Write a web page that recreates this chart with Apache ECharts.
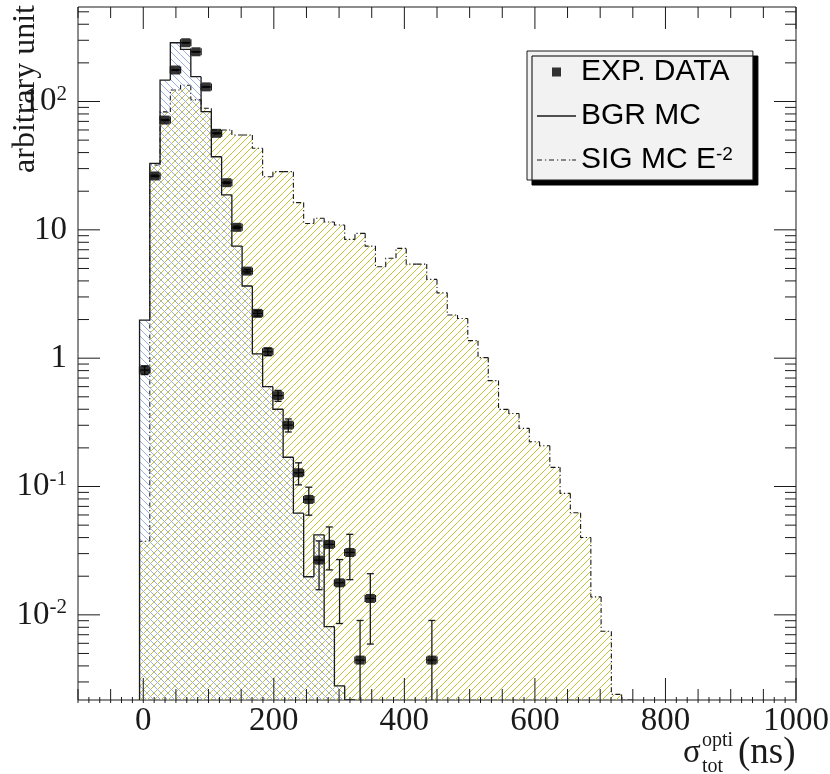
<!DOCTYPE html>
<html>
<head>
<meta charset="utf-8">
<script src="https://cdn.jsdelivr.net/npm/echarts@6/dist/echarts.min.js"></script>
<style>
  html, body { margin: 0; padding: 0; background: #ffffff; }
  #chart { width: 830px; height: 774px; }
</style>
</head>
<body>
<div id="chart"></div>
<script>
// Histogram binning: 70 equal bins over [-100, 1000] ns
const HIST_MIN = -100;
const HIST_MAX = 1000;
const N_BINS = 70;

// Background Monte Carlo, contents of each bin (arbitrary unit)
const bgrMC = [
  0, 0, 0, 0, 0, 0, 1.98, 33.0, 147, 287,
  255, 156, 83.3, 37.1, 18.7, 7.47, 3.65, 1.08, 0.60, 0.40,
  0.169, 0.062, 0.0198, 0.042, 0.0081, 0.0028, 0, 0, 0, 0,
  0, 0, 0, 0, 0, 0, 0, 0, 0, 0,
  0, 0, 0, 0, 0, 0, 0, 0, 0, 0,
  0, 0, 0, 0, 0, 0, 0, 0, 0, 0,
  0, 0, 0, 0, 0, 0, 0, 0, 0, 0
];

// Signal Monte Carlo (E^-2 spectrum), contents of each bin
const sigMC = [
  0, 0, 0, 0, 0, 0, 0.0375, 32, 83, 123,
  134, 103, 88.5, 60, 60, 54.8, 54.8, 43.2, 25.9, 28.4,
  28.4, 16.3, 11.2, 12.3, 11.5, 10.9, 8.43, 9.39, 7.47, 5.16,
  6.0, 7.17, 5.41, 5.41, 4.11, 3.23, 2.17, 2.04, 1.37, 1.01,
  0.669, 0.399, 0.371, 0.284, 0.223, 0.208, 0.141, 0.0884, 0.0624, 0.0401,
  0.0138, 0.00746, 0.0024, 0, 0, 0, 0, 0, 0, 0,
  0, 0, 0, 0, 0, 0, 0, 0, 0, 0
];

// Experimental data: bin index, content and statistical error
const expBins = [6, 7, 8, 9, 10, 11, 12, 13, 14, 15, 16, 17, 18, 19, 20, 21, 22, 23, 24, 25, 26, 27, 28, 34];
const expValues = [0.808, 26.3, 71.7, 176, 287, 244, 130, 56.5, 23.3, 10.46, 4.77, 2.235, 1.122, 0.511, 0.301, 0.128, 0.0793, 0.0267, 0.0354, 0.01776, 0.0306, 0.00444, 0.01342, 0.00444];
const expErrors = [0.063, 0.36, 0.59, 0.93, 1.19, 1.09, 0.80, 0.53, 0.34, 0.226, 0.153, 0.105, 0.074, 0.05, 0.035, 0.025, 0.0195, 0.011, 0.013, 0.0092, 0.0118, 0.0046, 0.0075, 0.0046];

// Axis ranges and labelled ticks
const X_MIN = -100, X_MAX = 1000;
const Y_MIN = 0.00217, Y_MAX = 545;
const xTickLabels = [0, 200, 400, 600, 800, 1000];
const yTickLabels = [0.01, 0.1, 1, 10, 100];

const BIN_W = (HIST_MAX - HIST_MIN) / N_BINS;
const binLow = i => HIST_MIN + i * BIN_W;

const SERIF = 'Liberation Serif';
const SANS = 'Liberation Sans';
const INK = '#1a1a1a';

// Diagonal hatch fill: dir > 0 draws '/', dir < 0 draws '\'
function hatch(color, dir, size) {
  const c = document.createElement('canvas');
  c.width = size; c.height = size;
  const g = c.getContext('2d');
  g.strokeStyle = color;
  g.lineWidth = 1;
  g.beginPath();
  if (dir > 0) {
    g.moveTo(-1, size + 1); g.lineTo(size + 1, -1);
    g.moveTo(-2, 2); g.lineTo(2, -2);
    g.moveTo(size - 2, size + 2); g.lineTo(size + 2, size - 2);
  } else {
    g.moveTo(-1, -1); g.lineTo(size + 1, size + 1);
    g.moveTo(size - 2, -2); g.lineTo(size + 2, 2);
    g.moveTo(-2, size - 2); g.lineTo(2, size + 2);
  }
  g.stroke();
  return { image: c, repeat: 'repeat' };
}
const sigFill = hatch('#c2c232', 1, 7);
const bgrFill = hatch('#9aaee4', -1, 7);

// One item per bin: [low edge, high edge, content, content of previous bin]
function histData(arr) {
  return arr.map((v, i) => [binLow(i), binLow(i + 1), v, i > 0 ? arr[i - 1] : 0]);
}

function histRender(fill, lineDash, lineWidth) {
  return function (params, api) {
    const lo = api.value(0), hi = api.value(1);
    const v = api.value(2), prev = api.value(3);
    if (!(v > 0) && !(prev > 0)) return null;
    const top = v > 0 ? v : Y_MIN;
    const prevTop = prev > 0 ? prev : Y_MIN;
    const pBase = api.coord([lo, Y_MIN]);
    const pTL = api.coord([lo, top]);
    const pTR = api.coord([hi, top]);
    const pPrev = api.coord([lo, prevTop]);
    const children = [];
    if (v > 0) {
      children.push({
        type: 'rect',
        shape: { x: pTL[0], y: pTL[1], width: pTR[0] - pTL[0], height: pBase[1] - pTL[1] },
        style: { fill: fill, stroke: null },
        silent: true
      });
    }
    children.push({
      type: 'polyline',
      shape: { points: [pPrev, pTL, pTR] },
      style: { fill: null, stroke: INK, lineWidth: lineWidth, lineDash: lineDash }
    });
    return { type: 'group', children: children };
  };
}

// Error bars with end caps (vertical: statistical, horizontal: half bin width)
function errorRender(params, api) {
  const x = api.value(0), v = api.value(1), e = api.value(2);
  const c = api.coord([x, v]);
  const pUp = api.coord([x, v + e]);
  const pBase = api.coord([x, Y_MIN]);
  const lowOk = v - e > Y_MIN;
  const pDn = lowOk ? api.coord([x, v - e]) : pBase;
  const pL = api.coord([x - BIN_W / 2, v]);
  const pR = api.coord([x + BIN_W / 2, v]);
  const st = { stroke: INK, lineWidth: 1.3, fill: null };
  const cap = 3.5;
  const kids = [
    { type: 'line', shape: { x1: c[0], y1: pUp[1], x2: c[0], y2: pDn[1] }, style: st },
    { type: 'line', shape: { x1: c[0] - cap, y1: pUp[1], x2: c[0] + cap, y2: pUp[1] }, style: st },
    { type: 'line', shape: { x1: pL[0], y1: c[1], x2: pR[0], y2: c[1] }, style: st },
    { type: 'line', shape: { x1: pL[0], y1: c[1] - cap, x2: pL[0], y2: c[1] + cap }, style: st },
    { type: 'line', shape: { x1: pR[0], y1: c[1] - cap, x2: pR[0], y2: c[1] + cap }, style: st }
  ];
  if (lowOk) {
    kids.push({ type: 'line', shape: { x1: c[0] - cap, y1: pDn[1], x2: c[0] + cap, y2: pDn[1] }, style: st });
  }
  return { type: 'group', children: kids };
}

// Frame ticks on all four sides of the plot
function tickRender(params, api) {
  if (params.dataIndex !== 0) return null;
  const st = { stroke: INK, lineWidth: 1 };
  const kids = [];
  const seg = (x1, y1, x2, y2) => kids.push({ type: 'line', shape: { x1, y1, x2, y2 }, style: st });
  const bottom = api.coord([X_MIN, Y_MIN])[1];
  const topY = api.coord([X_MIN, Y_MAX])[1];
  const left = api.coord([X_MIN, Y_MIN])[0];
  const right = api.coord([X_MAX, Y_MIN])[0];
  // x axis: fine ticks every 50/3, medium every 50, long every 200
  const nFine = Math.round((X_MAX - X_MIN) / (50 / 3));
  for (let k = 0; k <= nFine; k++) {
    const xv = X_MIN + k * 50 / 3;
    const px = api.coord([xv, Y_MIN])[0];
    const isMed = k % 3 === 0;
    const isMaj = isMed && Math.abs(((xv % 200) + 200) % 200) < 1e-6;
    if (isMaj) {
      seg(px, bottom + 3, px, bottom - 22);
      seg(px, topY, px, topY + 22);
    } else if (isMed) {
      seg(px, bottom + 3, px, bottom - 11);
      seg(px, topY, px, topY + 11);
    } else {
      seg(px, bottom + 3, px, bottom - 3);
    }
  }
  // y axis: decades long, 2..9 short
  for (let e = -3; e <= 2; e++) {
    for (let m = 1; m <= 9; m++) {
      const yv = m * Math.pow(10, e);
      if (yv < Y_MIN || yv > Y_MAX) continue;
      const py = api.coord([X_MIN, yv])[1];
      const len = m === 1 ? 22 : 11;
      seg(left, py, left + len, py);
      seg(right, py, right - len, py);
    }
  }
  return { type: 'group', children: kids };
}

function yLabel(v) {
  const lg = Math.log10(v);
  const e = Math.round(lg);
  if (Math.abs(lg - e) > 1e-6) return '';
  if (!yTickLabels.some(t => Math.abs(Math.log10(t) - e) < 1e-6)) return '';
  if (e === 0) return '{b|1}';
  if (e === 1) return '{b|10}';
  return '{b|10}{s|' + e + '}';
}

const chart = echarts.init(document.getElementById('chart'), null, { renderer: 'canvas' });

chart.setOption({
  animation: false,
  backgroundColor: '#ffffff',
  grid: {
    left: 78, right: 34, top: 7, bottom: 74,
    containLabel: false,
    outerBoundsMode: 'none',
    show: true,
    borderColor: INK,
    borderWidth: 1,
    backgroundColor: 'transparent'
  },
  xAxis: {
    type: 'value',
    min: X_MIN, max: X_MAX, interval: 50,
    axisLine: { show: false },
    axisTick: { show: false },
    splitLine: { show: false },
    axisLabel: {
      margin: 5,
      fontFamily: SERIF, fontSize: 33, color: INK,
      showMinLabel: true, showMaxLabel: true,
      formatter: v => (xTickLabels.some(t => Math.abs(t - v) < 1e-6) ? String(Math.round(v)) : '')
    }
  },
  yAxis: {
    type: 'log',
    logBase: 10,
    min: Y_MIN, max: Y_MAX,
    axisLine: { show: false },
    axisTick: { show: false },
    splitLine: { show: false },
    axisLabel: {
      margin: 11,
      color: INK,
      formatter: yLabel,
      rich: {
        b: { fontFamily: SERIF, fontSize: 33, color: INK, lineHeight: 36 },
        s: { fontFamily: SERIF, fontSize: 21, color: INK, lineHeight: 21, verticalAlign: 'top' }
      }
    }
  },
  legend: {
    orient: 'vertical',
    left: 527, top: 51,
    padding: [6, 20, 5, 10],
    itemWidth: 39, itemHeight: 9, itemGap: 14,
    backgroundColor: '#f2f2f2',
    borderColor: INK, borderWidth: 1,
    shadowColor: '#000000', shadowBlur: 0, shadowOffsetX: 5, shadowOffsetY: 5,
    selectedMode: false,
    itemStyle: { borderWidth: 0 },
    textStyle: {
      fontFamily: SANS, fontSize: 30, color: '#000', lineHeight: 30,
      rich: {
        sup: { fontFamily: SANS, fontSize: 19, color: '#000', lineHeight: 19, verticalAlign: 'top' }
      }
    },
    formatter: name => name.replace(/E-2$/, 'E{sup|-2}'),
    data: [
      { name: 'EXP. DATA', icon: 'path://M0,0h1v1h-1z', itemStyle: { color: '#000' } },
      { name: 'BGR MC', icon: 'path://M0,0h39v1.3h-39z', itemStyle: { color: INK } },
      { name: 'SIG MC E-2', icon: 'path://M0,0h5v1.2h-5zM8,0h1.2v1.2h-1.2zM12,0h5v1.2h-5zM20,0h1.2v1.2h-1.2zM24,0h5v1.2h-5zM32,0h1.2v1.2h-1.2zM35,0h4v1.2h-4z', itemStyle: { color: INK } }
    ]
  },
  graphic: [
    // y axis title, reading upwards and ending at the top of the frame
    {
      type: 'text', x: 10, y: 5, rotation: Math.PI / 2,
      style: { text: 'arbitrary unit', font: '32px "Liberation Serif"', fill: INK, align: 'right', verticalAlign: 'top' }
    },
    // x axis title
    { type: 'text', left: 683, top: 737, style: { text: 'σ', font: '33px "Liberation Serif"', fill: INK } },
    { type: 'text', left: 702, top: 731, style: { text: 'opti', font: '20px "Liberation Serif"', fill: INK } },
    { type: 'text', left: 702, top: 757, style: { text: 'tot', font: '20px "Liberation Serif"', fill: INK } },
    { type: 'text', left: 738, top: 735, style: { text: '(ns)', font: '37px "Liberation Serif"', fill: INK } }
  ],
  series: [
    {
      name: 'SIG MC E-2',
      type: 'custom',
      clip: true,
      z: 2,
      itemStyle: { color: INK },
      encode: { x: [0, 1], y: 2 },
      data: histData(sigMC),
      renderItem: histRender(sigFill, [5, 2.5, 1.2, 2.5], 1.1)
    },
    {
      name: 'BGR MC',
      type: 'custom',
      clip: true,
      z: 3,
      itemStyle: { color: INK },
      encode: { x: [0, 1], y: 2 },
      data: histData(bgrMC),
      renderItem: histRender(bgrFill, null, 1.3)
    },
    {
      name: 'EXP. DATA errors',
      type: 'custom',
      clip: true,
      z: 4,
      encode: { x: 0, y: 1 },
      data: expBins.map((b, k) => [binLow(b) + BIN_W / 2, expValues[k], expErrors[k]]),
      renderItem: errorRender
    },
    {
      name: 'EXP. DATA',
      type: 'scatter',
      z: 5,
      symbol: 'rect',
      symbolSize: 9,
      itemStyle: { color: '#000' },
      data: expBins.map((b, k) => [binLow(b) + BIN_W / 2, expValues[k]])
    },
    {
      name: 'frame ticks',
      type: 'custom',
      clip: false,
      z: 6,
      silent: true,
      encode: { x: 0, y: 1 },
      data: [[X_MIN, Y_MIN]],
      renderItem: tickRender
    }
  ]
});
</script>
</body>
</html>
